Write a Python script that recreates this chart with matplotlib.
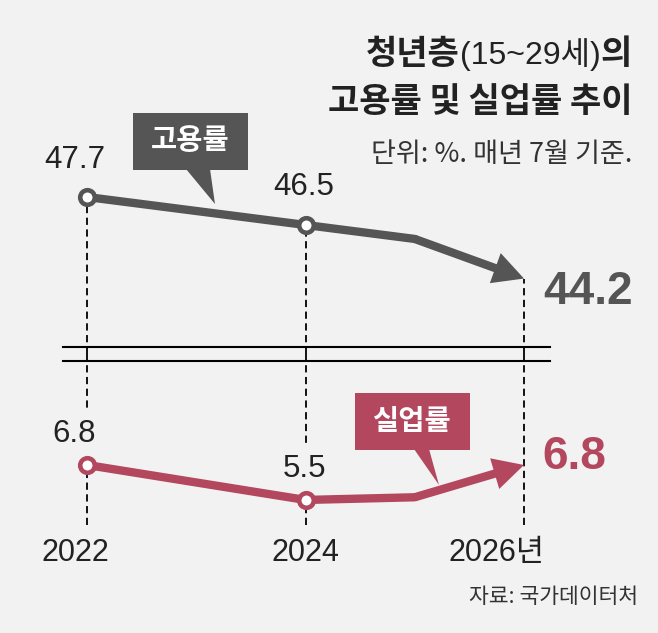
import matplotlib
matplotlib.use('Agg')
import matplotlib.pyplot as plt
from matplotlib.patches import Polygon, Rectangle

# ---------------- data ----------------
years = [2022, 2024, 2025, 2026]
employment = [47.7, 46.5, 45.9, 44.2]
unemployment = [6.8, 5.5, 5.6, 6.8]
marked_years = [2022, 2024]
tick_years = [2022, 2024, 2026]
tick_labels = ['2022', '2024', '2026년']
emp_name = '고용률'
unemp_name = '실업률'
title1a, title1b, title1c = '청년층', '(15~29세)', '의'
title2 = '고용률 및 실업률 추이'
subtitle = '단위: %. 매년 7월 기준.'
source = '자료: 국가데이터처'

# ---------------- style ----------------
BG = '#f2f2f2'
GRAY = '#555555'
RED = '#b3475e'
DARK = '#222222'
NUM_FONT = ['Liberation Sans', 'Noto Sans CJK KR']
KR_FONT = ['Noto Sans CJK KR', 'DejaVu Sans']
plt.rcParams['font.family'] = KR_FONT

W, H = 658, 633
fig = plt.figure(figsize=(W / 100, H / 100), dpi=100, facecolor=BG)

split = 354  # pixel row between the two panels
ax_top = fig.add_axes([0, 1 - split / H, 1, split / H])
ax_bot = fig.add_axes([0, 0, 1, (H - split) / H])

xlim = (2021.2037, 2027.2265)
for ax in (ax_top, ax_bot):
    ax.set_xlim(*xlim)
    ax.set_facecolor('none')
    ax.axis('off')
ax_top.set_ylim(40.962, 56.155)
ax_bot.set_ylim(0.554, 10.926)

# dashed guide lines
emp_at = dict(zip(years, employment))
ax_top.vlines(tick_years, ax_top.get_ylim()[0], [emp_at[y] for y in tick_years],
              colors='black', linestyles=(0, (4, 2.5)), lw=1.3, zorder=1)
for y in tick_years:
    ax_bot.axvline(y, ymin=0.387, ymax=1, color='black', ls=(0, (4, 2.5)),
                   lw=1.3, zorder=1)

# broken-axis double line
bx0, bx1 = 2021.78, 2026.238
ax_top.plot([bx0, bx1], [0.0198, 0.0198], transform=ax_top.get_xaxis_transform(),
            color='black', lw=1.5, zorder=2)
ax_bot.plot([bx0, bx1], [0.975, 0.975], transform=ax_bot.get_xaxis_transform(),
            color='black', lw=1.5, zorder=2)


def draw_series(ax, vals, color):
    ax.plot(years[:-1], vals[:-1], color=color, lw=6, solid_capstyle='round',
            solid_joinstyle='round', zorder=3)
    ax.annotate('', xy=(years[-1], vals[-1]), xytext=(years[-2], vals[-2]),
                arrowprops=dict(arrowstyle='simple,head_length=22,head_width=23,tail_width=6',
                                mutation_scale=1, color=color, lw=0,
                                shrinkA=0, shrinkB=0), zorder=3)
    mv = [v for yr, v in zip(years, vals) if yr in marked_years]
    ax.plot(marked_years, mv, 'o', ms=10.5, mew=3.3, mfc='white', mec=color, zorder=4)
    return mv


emp_marked = draw_series(ax_top, employment, GRAY)
unemp_marked = draw_series(ax_bot, unemployment, RED)

label_dx = [-9, -1]
for yr, v, dx in zip(marked_years, emp_marked, label_dx):
    ax_top.annotate(f'{v:.1f}', (yr, v), xytext=(dx, 27), textcoords='offset points',
                    ha='center', va='center', fontsize=22.5, family=NUM_FONT, color=DARK)
for yr, v, dx in zip(marked_years, unemp_marked, label_dx):
    ax_bot.annotate(f'{v:.1f}', (yr, v), xytext=(dx, 22.5), textcoords='offset points',
                    ha='center', va='center', fontsize=22.5, family=NUM_FONT, color=DARK,
                    bbox=dict(boxstyle='square,pad=0.35', fc=BG, ec='none'), zorder=2.5)

ax_top.annotate(f'{employment[-1]:.1f}', (years[-1], employment[-1]), xytext=(14, -10),
                textcoords='offset points', ha='left', va='center', fontsize=33,
                fontweight='bold', family=['Liberation Sans', 'DejaVu Sans'], color=GRAY)
ax_bot.annotate(f'{unemployment[-1]:.1f}', (years[-1], unemployment[-1]), xytext=(13, 5.5),
                textcoords='offset points', ha='left', va='center', fontsize=33,
                fontweight='bold', family=['Liberation Sans', 'DejaVu Sans'], color=RED)

tick_dx = [-8.6, 0, -20]
for yr, lab, dx in zip(tick_years, tick_labels, tick_dx):
    ax_bot.annotate(lab, (yr, 0.2867), xycoords=ax_bot.get_xaxis_transform(),
                    xytext=(dx, 0), textcoords='offset points', ha='center', va='center',
                    fontsize=22, family=NUM_FONT, color=DARK)

# ---------------- decorations in pixel space ----------------
deco = fig.add_axes([0, 0, 1, 1])
deco.set_xlim(0, W)
deco.set_ylim(H, 0)
deco.axis('off')
deco.set_facecolor('none')

# callouts
deco.add_patch(Rectangle((133, 113), 115, 57, color=GRAY, lw=0))
deco.add_patch(Polygon([(186, 169), (210, 169), (215, 204)], closed=True, color=GRAY, lw=0))
deco.text(190.5, 141.5, emp_name, ha='center', va='center', fontsize=20.5,
          fontweight='bold', color='white')
deco.add_patch(Rectangle((355, 393), 115, 57, color=RED, lw=0))
deco.add_patch(Polygon([(414, 449), (429, 449), (439, 485)], closed=True, color=RED, lw=0))
deco.text(412.5, 421.5, unemp_name, ha='center', va='center', fontsize=20.5,
          fontweight='bold', color='white')

# title line 1 (mixed sizes), right aligned
fig.canvas.draw()
r = fig.canvas.get_renderer()
xr = 632
base1 = 64
t = deco.text(xr, base1, title1c, ha='right', va='baseline', fontsize=24.5,
              fontweight='bold', color=DARK)
xr -= t.get_window_extent(r).width
t = deco.text(xr, base1, title1b, ha='right', va='baseline', fontsize=23,
              family=['Liberation Sans', 'Noto Sans CJK KR'], color=DARK)
xr -= t.get_window_extent(r).width
deco.text(xr, base1, title1a, ha='right', va='baseline', fontsize=24.5,
          fontweight='bold', color=DARK)

deco.text(632, 112, title2, ha='right', va='baseline', fontsize=24.5,
          fontweight='bold', color=DARK)
deco.text(632, 154, subtitle, ha='right', va='center', fontsize=19.5, color='#333333')
deco.text(638, 597, source, ha='right', va='center', fontsize=15.5, color='#333333')

fig.savefig('out.png', dpi=100, facecolor=BG)
